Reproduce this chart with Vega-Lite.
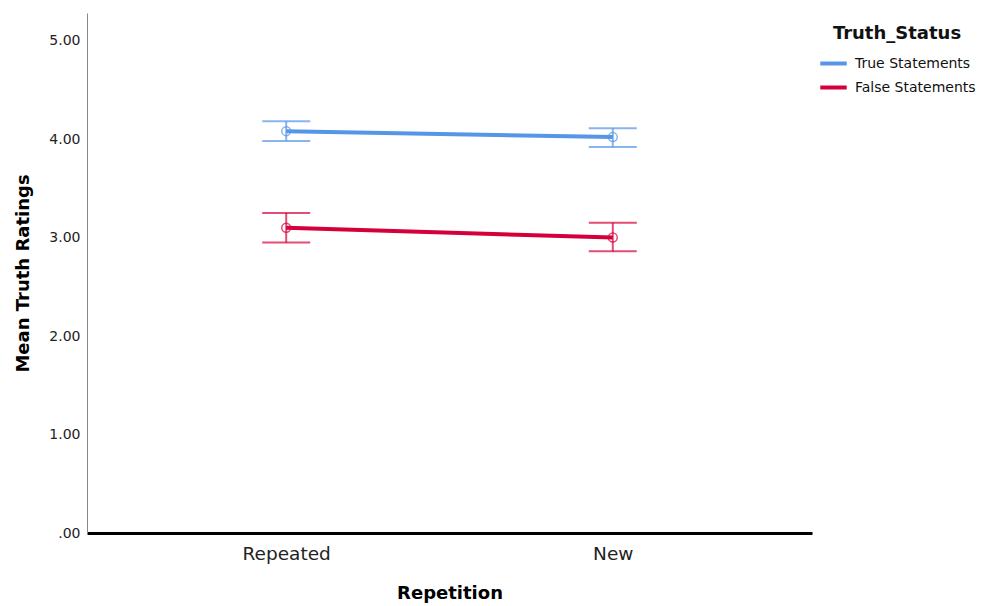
{
  "$schema": "https://vega.github.io/schema/vega-lite/v6.json",
  "autosize": {"type": "none"},
  "padding": {"left": 87, "top": 13, "right": 179, "bottom": 73},
  "width": 725,
  "height": 520,
  "background": "white",
  "config": {
    "view": {"stroke": null},
    "font": "DejaVu Sans",
    "axis": {"grid": false, "ticks": false, "labelFont": "DejaVu Sans", "titleFont": "DejaVu Sans"}
  },
  "data": {
    "values": [
      {"Repetition": "Repeated", "Truth_Status": "True Statements", "mean": 4.08, "lo": 3.98, "hi": 4.18},
      {"Repetition": "New", "Truth_Status": "True Statements", "mean": 4.02, "lo": 3.92, "hi": 4.11},
      {"Repetition": "Repeated", "Truth_Status": "False Statements", "mean": 3.10, "lo": 2.95, "hi": 3.25},
      {"Repetition": "New", "Truth_Status": "False Statements", "mean": 3.00, "lo": 2.86, "hi": 3.15}
    ]
  },
  "encoding": {
    "x": {
      "field": "Repetition",
      "type": "nominal",
      "sort": ["Repeated", "New"],
      "scale": {"type": "point", "padding": 0.61},
      "axis": {
        "title": "Repetition",
        "labelAngle": 0,
        "labelFontSize": 18.5,
        "labelColor": "#222",
        "labelPadding": 11,
        "titleFontSize": 18,
        "titleFontWeight": "bold",
        "titlePadding": 22,
        "domainColor": "black",
        "domainWidth": 3
      }
    },
    "color": {
      "field": "Truth_Status",
      "type": "nominal",
      "scale": {"domain": ["True Statements", "False Statements"], "range": ["#5596e6", "#d5003b"]},
      "legend": {
        "title": "Truth_Status",
        "orient": "none",
        "legendX": 731,
        "legendY": 12,
        "titleFontSize": 18,
        "titleFontWeight": "bold",
        "titleColor": "#111",
        "titleAnchor": "middle",
        "titlePadding": 5,
        "labelFontSize": 14,
        "labelColor": "#111",
        "symbolType": "stroke",
        "symbolStrokeWidth": 4,
        "symbolSize": 700,
        "symbolOpacity": 1,
        "rowPadding": -5,
        "labelOffset": 6
      }
    }
  },
  "layer": [
    {
      "mark": {"type": "rule", "strokeWidth": 2, "opacity": 0.7},
      "encoding": {
        "y": {"field": "lo", "type": "quantitative"},
        "y2": {"field": "hi"}
      }
    },
    {
      "mark": {"type": "tick", "size": 48, "thickness": 2, "opacity": 0.7},
      "encoding": {"y": {"field": "lo", "type": "quantitative"}}
    },
    {
      "mark": {"type": "tick", "size": 48, "thickness": 2, "opacity": 0.7},
      "encoding": {"y": {"field": "hi", "type": "quantitative"}}
    },
    {
      "mark": {"type": "line", "strokeWidth": 4},
      "encoding": {
        "y": {
          "field": "mean",
          "type": "quantitative",
          "scale": {"domain": [0, 5.28], "nice": false, "zero": true},
          "axis": {
            "title": "Mean Truth Ratings",
            "values": [0, 1, 2, 3, 4, 5],
            "labelExpr": "datum.value == 0 ? '.00' : format(datum.value, '.2f')",
            "labelFontSize": 14,
            "labelColor": "#222",
            "labelPadding": 7,
            "titleFontSize": 18,
            "titleFontWeight": "bold",
            "titlePadding": 16,
            "domainColor": "#888",
            "domainWidth": 1
          }
        }
      }
    },
    {
      "mark": {"type": "point", "filled": false, "size": 80, "strokeWidth": 1.5, "opacity": 0.7},
      "encoding": {"y": {"field": "mean", "type": "quantitative"}}
    }
  ]
}
